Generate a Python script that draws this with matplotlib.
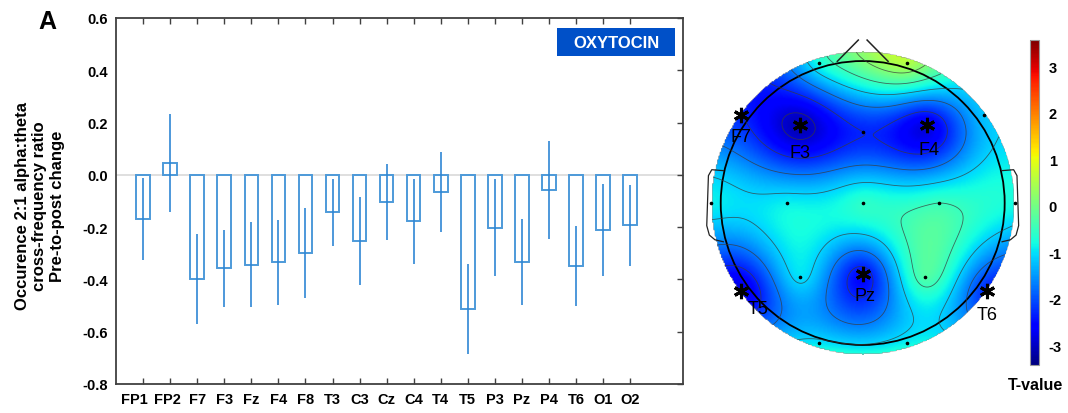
import numpy as np
import matplotlib
matplotlib.use("Agg")
import matplotlib.pyplot as plt
import matplotlib.transforms as mtransforms
from matplotlib.patches import Circle, Rectangle

plt.rcParams['font.family'] = ['Liberation Sans', 'DejaVu Sans']
plt.rcParams['axes.unicode_minus'] = False

# ===== DATA =====
channels = ["FP1", "FP2", "F7", "F3", "Fz", "F4", "F8", "T3", "C3", "Cz",
            "C4", "T4", "T5", "P3", "Pz", "P4", "T6", "O1", "O2"]
change_mean = [-0.168, 0.045, -0.398, -0.358, -0.344, -0.335, -0.299, -0.143, -0.254, -0.104,
               -0.178, -0.067, -0.514, -0.202, -0.333, -0.057, -0.349, -0.210, -0.192]
change_err = [0.156, 0.188, 0.171, 0.148, 0.163, 0.164, 0.173, 0.129, 0.169, 0.145,
              0.163, 0.153, 0.173, 0.185, 0.165, 0.188, 0.153, 0.175, 0.155]
y_ticks = [-0.8, -0.6, -0.4, -0.2, 0.0, 0.2, 0.4, 0.6]

electrodes = ["Fp1", "Fp2", "F7", "F3", "Fz", "F4", "F8", "T3", "C3", "Cz",
              "C4", "T4", "T5", "P3", "Pz", "P4", "T6", "O1", "O2"]
elec_x = [-0.29, 0.29, -0.80, -0.41, 0.0, 0.42, 0.80, -1.0, -0.5, 0.0,
          0.5, 1.0, -0.80, -0.41, 0.0, 0.41, 0.82, -0.29, 0.29]
elec_y = [0.92, 0.92, 0.58, 0.51, 0.47, 0.51, 0.58, 0.0, 0.0, 0.0,
          0.0, 0.0, -0.58, -0.49, -0.47, -0.49, -0.58, -0.92, -0.92]
t_values = [-0.8, 0.5, -2.3, -3.1, -2.3, -2.8, -1.2, -0.9, -0.9, -0.6,
            -0.5, -0.8, -2.8, -1.0, -2.5, -0.3, -2.3, -1.0, -0.9]
significant = ["F7", "F3", "F4", "T5", "Pz", "T6"]
t_ticks = [-3, -2, -1, 0, 1, 2, 3]

T_MIN, T_MAX = -3.42, 3.56
W, H = 1068, 414

BAR_EDGE = "#4d9ad9"
ERR_LINE = "#2f86d4"


def px_rect(left, top, right, bottom):
    return [left / W, (H - bottom) / H, (right - left) / W, (bottom - top) / H]


# ===== BIHARMONIC SPLINE (como griddata v4) =====
def green(r):
    g = np.zeros_like(r)
    nz = r > 0
    g[nz] = r[nz] ** 2 * (np.log(r[nz]) - 1)
    return g


def biharmonic(xe, ye, ve, xg, yg):
    d = np.hypot(xe[:, None] - xe[None, :], ye[:, None] - ye[None, :])
    w = np.linalg.solve(green(d), ve)
    dg = np.hypot(xg[..., None] - xe, yg[..., None] - ye)
    return green(dg) @ w


fig = plt.figure(figsize=(W / 100, H / 100), dpi=100)

# ===== BAR CHART =====
ax = fig.add_axes(px_rect(116, 19, 683, 385))
x = np.arange(len(channels))
mean = np.array(change_mean)
err = np.array(change_err)
ax.axhline(0, color="#dcdcdc", lw=1.3, zorder=0)
ax.bar(x, mean, width=0.5, fill=False, edgecolor=BAR_EDGE, lw=1.4, zorder=2)
ax.vlines(x, mean - err, mean + err, color=ERR_LINE, lw=1.2, zorder=3)
ax.set_xlim(-1, 19.95)
ax.set_ylim(-0.8, 0.6)
ax.set_yticks(y_ticks)
ax.set_yticklabels([f"{v:.1f}" for v in y_ticks])
ax.set_xticks(x)
ax.set_xticklabels(channels)
ax.tick_params(direction="in", top=True, right=True, left=False, length=4,
               width=1, color="#404040", pad=6)
for lab in ax.get_xticklabels() + ax.get_yticklabels():
    lab.set_fontweight("bold")
    lab.set_fontsize(10.5)
# FP1 / FP2 rótulos um pouco deslocados p/ esquerda, como no original
for lab, dx in zip(ax.get_xticklabels()[:2], [-9, -3]):
    lab.set_transform(lab.get_transform() + mtransforms.Affine2D().translate(dx, 0))
for s in ax.spines.values():
    s.set_color("#404040")
    s.set_linewidth(1.3)

fig.text(40 / W, 1 - 206 / H, "Occurence 2:1 alpha:theta\ncross-frequency ratio\nPre-to-post change",
         rotation=90, ha="center", va="center", multialignment="center",
         fontsize=12, fontweight="bold", linespacing=1.2)

ax.add_patch(Rectangle(((557 - 116) / 567, (385 - 57) / 366), 118 / 567, 28 / 366,
                       transform=ax.transAxes, facecolor="#0050c8", edgecolor="none", zorder=4))
ax.text((616 - 116) / 567, (385 - 43) / 366, "OXYTOCIN", transform=ax.transAxes,
        ha="center", va="center", color="white", fontsize=12, fontweight="bold", zorder=5)

fig.text(47 / W, 1 - 22 / H, "A", fontsize=18, fontweight="bold", ha="center", va="center")

# ===== TOPOMAP =====
CX, CY, SC = 862.7, 204, 152
tx = fig.add_axes(px_rect(700, 40, 1026, 370))
tx.set_xlim((700 - CX) / SC, (1026 - CX) / SC)
tx.set_ylim((CY - 370) / SC, (CY - 40) / SC)
tx.axis("off")

ex, ey, ev = np.array(elec_x), np.array(elec_y), np.array(t_values)
g = np.linspace(-1, 1, 241)
gx, gy = np.meshgrid(g, g)
zz = biharmonic(ex, ey, ev, gx, gy)
zz = np.ma.masked_where(np.hypot(gx, gy) > 1.0, zz)

disk = Circle((0, 0), 1.0, transform=tx.transData)
im = tx.imshow(zz, extent=(-1, 1, -1, 1), origin="lower", cmap="jet",
               vmin=T_MIN, vmax=T_MAX, interpolation="bilinear")
im.set_clip_path(disk)
cs = tx.contour(gx, gy, zz, levels=np.arange(-2.9, 1.0, 0.6), colors="#3a3a3a",
                linewidths=0.6, alpha=0.75, negative_linestyles="solid")
cs.set_clip_path(disk)

# cabeça, nariz e orelhas
tx.add_patch(Circle((0, 0), 0.934, fill=False, edgecolor="black", lw=1.3))
tx.plot([-0.167, -0.029], [0.932, 1.072], color="#222222", lw=1.1)
tx.plot([0.167, 0.029], [0.932, 1.072], color="#222222", lw=1.1)
ear_x = np.array([-0.917, -0.993, -1.015, -1.026, -1.009, -0.972, -0.917])
ear_y = np.array([0.213, 0.219, 0.180, -0.149, -0.211, -0.242, -0.255])
tx.plot(ear_x, ear_y, color="#222222", lw=0.9)
tx.plot(-ear_x, ear_y, color="#222222", lw=0.9)

tx.plot(ex, ey, ls="", marker="o", ms=1.6, color="black")

label_offsets = {"F7": (0, -22), "F3": (0, -27), "F4": (2, -24),
                 "T5": (17, -17), "Pz": (2, -21), "T6": (0, -23)}
for name in significant:
    i = electrodes.index(name)
    tx.plot(ex[i], ey[i], ls="", marker=(6, 2, 0), ms=11, mew=2.2, color="black")
    tx.annotate(name, (ex[i], ey[i]), xytext=label_offsets[name], textcoords="offset pixels",
                ha="center", va="center", fontsize=13)

# ===== COLORBAR =====
cax = fig.add_axes(px_rect(1030, 41, 1039, 366))
cb = fig.colorbar(im, cax=cax, ticks=t_ticks)
cb.outline.set_edgecolor("#999999")
cb.outline.set_linewidth(0.8)
cax.tick_params(length=0, pad=7)
for lab in cax.get_yticklabels():
    lab.set_fontweight("bold")
    lab.set_fontsize(10.5)
fig.text(1036 / W, 1 - 386 / H, "T-value", fontsize=11.5, fontweight="bold",
         ha="center", va="center")

fig.savefig("out.png", dpi=100)
